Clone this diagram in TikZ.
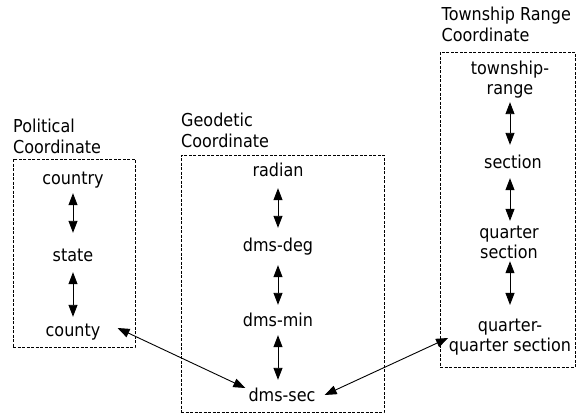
\documentclass[tikz,border=0pt]{standalone}
\usepackage{fontspec}
\setmainfont{DejaVu Sans}[FakeStretch=0.9]
\usetikzlibrary{arrows.meta}
\begin{document}
\begin{tikzpicture}[x=1pt,y=-1pt,
  lbl/.style={inner sep=0pt, font=\fontsize{17.8}{20.5}\selectfont, text height=12.6pt, text depth=0pt},
  mlbl/.style={inner sep=0pt, font=\fontsize{17.8}{20.5}\selectfont, align=center},
  ttl/.style={inner sep=0pt, font=\fontsize{17.8}{21}\selectfont, align=left, anchor=north west},
  grp/.style={draw, dash pattern=on 3pt off 1.5pt, line width=0.8pt, inner sep=0pt},
  va/.style={line width=0.9pt, {Triangle[length=12pt,width=9pt]}-{Triangle[length=12pt,width=9pt]}}]
\useasboundingbox (0,0) rectangle (576,415);

% group boxes
\node[grp, minimum width=122pt, minimum height=188pt] (polbox) at (74,253) {};
\node[grp, minimum width=203pt, minimum height=257pt] (geobox) at (282.5,283.5) {};
\node[grp, minimum width=135pt, minimum height=315pt] (twpbox) at (507.5,209.5) {};

% titles
\node[ttl] (poltitle) at (13,119.2) {Political\\Coordinate};
\node[ttl] (geotitle) at (181,112.5) {Geodetic\\Coordinate};
\node[ttl] (twptitle) at (441.5,6.5) {Township Range\\Coordinate};

% political
\node[lbl] (country) at (73,178) {country};
\node[lbl] (state) at (73,255) {state};
\node[lbl] (county) at (73,330) {county};

% geodetic
\node[lbl] (radian) at (278,170) {radian};
\node[lbl] (dmsdeg) at (278,245) {dms-deg};
\node[lbl] (dmsmin) at (278,320) {dms-min};
\node[lbl] (dmssec) at (282,395) {dms-sec};

% township
\node[mlbl] (trange) at (510,79.6) {township-\\range};
\node[lbl] (section) at (513,162) {section};
\node[mlbl] (qsec) at (509,242.2) {quarter\\section};
\node[mlbl] (qq) at (510,337) {quarter-\\quarter section};

% vertical connectors
\draw[va] ([yshift=-8.7pt]country.south) -- ([yshift=15.7pt]state.north);
\draw[va] ([yshift=-10.7pt]state.south) -- ([yshift=6.7pt]county.north);
\draw[va] ([yshift=-11.7pt]radian.south) -- ([yshift=10.7pt]dmsdeg.north);
\draw[va] ([yshift=-13.7pt]dmsdeg.south) -- ([yshift=8.7pt]dmsmin.north);
\draw[va] ([yshift=-8.7pt]dmsmin.south) -- ([yshift=8.7pt]dmsmin.south |- dmssec.north);
\draw[va] ([yshift=-3.5pt]trange.south) -- ([yshift=10.7pt]trange.south |- section.north);
\draw[va] ([yshift=-9.7pt]section.south -| trange.south) -- ([yshift=4.5pt]qsec.north -| trange.south);
\draw[va] ([yshift=-2.2pt]qsec.south -| trange.south) -- ([yshift=13.5pt]qq.north);

% cross connectors
\draw[va] ([xshift=17pt,yshift=2pt]county.east) -- ([xshift=-3pt,yshift=7pt]dmssec.west);
\draw[va] ([xshift=9pt]dmssec.east) -- ([xshift=-0.6pt,yshift=-1pt]qq.west);
\end{tikzpicture}
\end{document}
